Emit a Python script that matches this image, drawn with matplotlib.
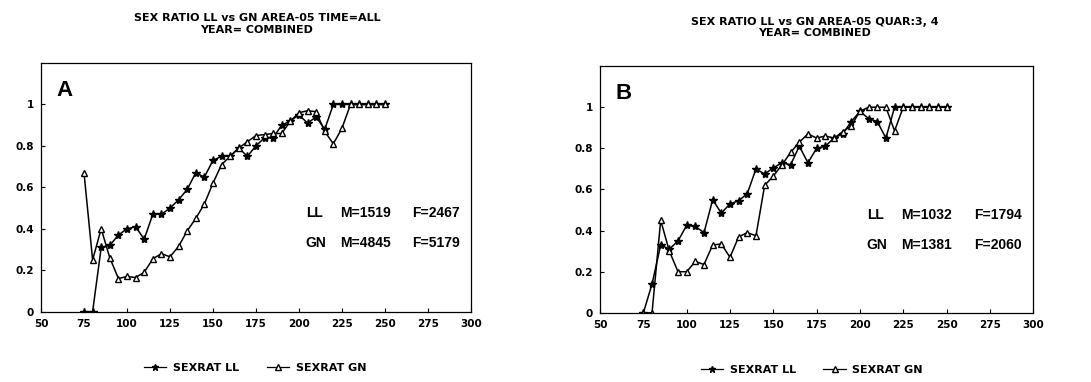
import matplotlib
matplotlib.use("Agg")
import matplotlib.pyplot as plt
from matplotlib.lines import Line2D

plt.rcParams['font.family'] = ['DejaVu Sans']
plt.rcParams['font.weight'] = 'bold'

# ---- data ----
lengths = [75, 80, 85, 90, 95, 100, 105, 110, 115, 120, 125, 130, 135, 140, 145,
           150, 155, 160, 165, 170, 175, 180, 185, 190, 195, 200, 205, 210, 215,
           220, 225, 230, 235, 240, 245, 250]

ll_a = [0, 0, 0.31, 0.32, 0.37, 0.40, 0.41, 0.35, 0.47, 0.47, 0.50, 0.54, 0.59, 0.67, 0.65,
        0.73, 0.75, 0.75, 0.79, 0.75, 0.80, 0.84, 0.84, 0.90, 0.92, 0.95, 0.91, 0.94, 0.88,
        1, 1, 1, 1, 1, 1, 1]
gn_a = [0.67, 0.25, 0.40, 0.26, 0.16, 0.17, 0.165, 0.19, 0.255, 0.28, 0.265, 0.315, 0.39, 0.45, 0.52,
        0.62, 0.71, 0.75, 0.79, 0.82, 0.85, 0.855, 0.86, 0.86, 0.92, 0.96, 0.97, 0.965, 0.87,
        0.81, 0.885, 1, 1, 1, 1, 1]

ll_b = [0, 0.14, 0.33, 0.31, 0.35, 0.425, 0.42, 0.39, 0.55, 0.485, 0.53, 0.545, 0.58, 0.70, 0.675,
        0.705, 0.73, 0.72, 0.81, 0.73, 0.80, 0.81, 0.85, 0.87, 0.93, 0.98, 0.945, 0.93, 0.85,
        1, 1, 1, 1, 1, 1, 1]
gn_b = [0, 0, 0.45, 0.30, 0.20, 0.20, 0.25, 0.235, 0.33, 0.335, 0.27, 0.37, 0.39, 0.375, 0.62,
        0.665, 0.72, 0.78, 0.83, 0.87, 0.85, 0.86, 0.85, 0.88, 0.91, 0.98, 1, 1, 1,
        0.885, 1, 1, 1, 1, 1, 1]

x_ticks = [50, 75, 100, 125, 150, 175, 200, 225, 250, 275, 300]
y_ticks = [0, 0.2, 0.4, 0.6, 0.8, 1]
y_tick_labels = ['0', '0.2', '0.4', '0.6', '0.8', '1']

titles_a = ["SEX RATIO LL vs GN AREA-05 TIME=ALL", "YEAR= COMBINED"]
titles_b = ["SEX RATIO LL vs GN AREA-05 QUAR:3, 4", "YEAR= COMBINED"]
counts_a = [("LL", "M=1519", "F=2467"), ("GN", "M=4845", "F=5179")]
counts_b = [("LL", "M=1032", "F=1794"), ("GN", "M=1381", "F=2060")]
legend_labels = ["SEXRAT LL", "SEXRAT GN"]

fig = plt.figure(figsize=(10.91, 3.82), dpi=100)

def panel(rect, ll, gn, letter, counts, titles, tcx, ty, legy, legx):
    ax = fig.add_axes(rect)
    ax.plot(lengths, ll, color='black', lw=1.1, marker='*', ms=6, mfc='black', mec='black')
    ax.plot(lengths, gn, color='black', lw=1.1, marker='^', ms=5, mfc='white', mec='black', mew=1.0)
    ax.set_xlim(50, 300)
    ax.set_ylim(0, 1.2)
    ax.set_xticks(x_ticks)
    ax.set_yticks(y_ticks)
    ax.set_yticklabels(y_tick_labels)
    ax.tick_params(direction='in', length=3, labelsize=7.5, width=0.8, pad=5)
    for s in ax.spines.values():
        s.set_linewidth(0.9)
    ax.text(0.035, 0.93, letter, transform=ax.transAxes, fontsize=16, fontweight='bold',
            va='top', ha='left', family='Liberation Sans')
    for row, yv in zip(counts, [0.477, 0.33]):
        for txt, xv in zip(row, [204, 224, 266]):
            ax.text(xv, yv, txt, fontsize=10, fontweight='bold', va='center', ha='left',
                    family='Liberation Sans')
    fig.text(tcx, ty[0], titles[0], fontsize=8, fontweight='bold', ha='center', va='center')
    fig.text(tcx, ty[1], titles[1], fontsize=8, fontweight='bold', ha='center', va='center')
    handles = [Line2D([], [], color='black', lw=0.9, marker='*', ms=5),
               Line2D([], [], color='black', lw=0.9, marker='^', ms=4, mfc='white')]
    fig.legend(handles, legend_labels, loc='center', bbox_to_anchor=(legx, legy), ncol=2,
               frameon=False, handlelength=2.0, columnspacing=2.5, handletextpad=0.6,
               prop={'weight': 'bold', 'size': 8})
    return ax

panel([0.0376, 0.184, 0.394, 0.651], ll_a, gn_a, 'A', counts_a, titles_a,
      0.2355, (0.953, 0.921), 0.036, 0.234)
panel([0.550, 0.181, 0.397, 0.646], ll_b, gn_b, 'B', counts_b, titles_b,
      0.747, (0.943, 0.914), 0.031, 0.744)

fig.savefig('out.png', dpi=100)
